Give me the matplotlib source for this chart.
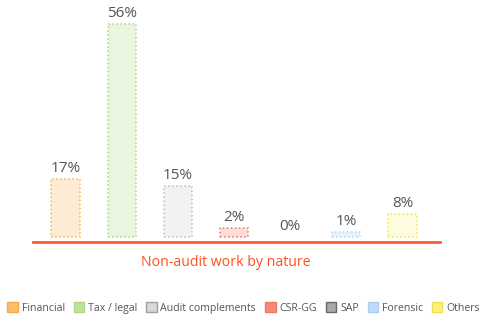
import matplotlib.pyplot as plt
from matplotlib.patches import Patch

# categories, displayed labels and bar heights
categories = ['Financial', 'Tax / legal', 'Audit complements', 'CSR-GG', 'SAP', 'Forensic', 'Others']
labels = ['17%', '56%', '15%', '2%', '0%', '1%', '8%']
heights = [15.3, 56.0, 13.4, 2.4, 0.0, 1.3, 6.0]

edge_colors = ['#FFB547', '#A8D87A', '#BDBDBD', '#F47560', '#A9A4A4', '#B3D7F7', '#F5E840']
fill_colors = ['#FDEBD3', '#EAF5E0', '#F2F2F2', '#FDDDD8', '#EEEEEE', '#E8F2FC', '#FEFCE0']
legend_colors = ['#FFBE68', '#BDE39A', '#D9D9D9', '#F88A75', '#ADA8A8', '#BFDDFB', '#FFF176']
legend_edges = ['#F3A94F', '#AED68A', '#A0A0A0', '#EE7A66', '#6E6868', '#AACDF0', '#EDE05A']

plt.rcParams['font.family'] = ['Open Sans', 'DejaVu Sans']

fig = plt.figure(figsize=(5, 3.28), dpi=100)
ax = fig.add_axes([33 / 500, 1 - 242 / 328, 407 / 500, 222 / 328])

x = list(range(len(categories)))
for i in x:
    if heights[i] > 0:
        ax.bar(i, heights[i], width=0.5, color=fill_colors[i], edgecolor=edge_colors[i],
               linestyle=':', linewidth=1.1)
    ax.text(i, heights[i] + 0.8, labels[i], ha='center', va='bottom',
            fontsize=11, color='#555555')

ax.set_xlim(-0.579, 6.668)
ax.set_ylim(-1.31, 57.05)
for s in ['top', 'right', 'left']:
    ax.spines[s].set_visible(False)
ax.spines['bottom'].set_color('#FF5A36')
ax.spines['bottom'].set_linewidth(2)
ax.set_xticks([])
ax.set_yticks([])

fig.text(226 / 500, 1 - 262 / 328, 'Non-audit work by nature', ha='center', va='center',
         fontsize=10.2, color='#FF4F1F')

handles = [Patch(facecolor=legend_colors[i], edgecolor=legend_edges[i], label=categories[i])
           for i in x]
fig.legend(handles=handles, loc='center', bbox_to_anchor=(0.487, 1 - 308 / 328), ncol=7,
           frameon=False, fontsize=7.6, handlelength=1.0, handleheight=1.0,
           handletextpad=0.35, columnspacing=0.85, labelcolor='#555555')

fig.savefig('out.png', dpi=100, facecolor='white')
